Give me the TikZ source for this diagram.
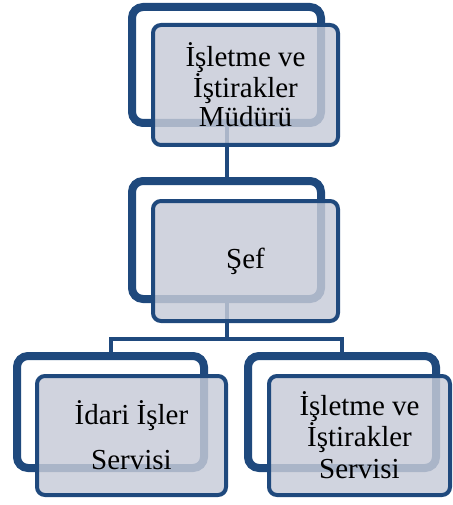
\documentclass[tikz,border=0pt]{standalone}
\usepackage{fontspec}
\setmainfont{Liberation Serif}
\usetikzlibrary{shadows}
\definecolor{frameblue}{RGB}{31,73,125}
\definecolor{boxgray}{RGB}{199,203,216}
\tikzset{
  backframe/.style={draw=frameblue, line width=8pt, fill=white, rounded corners=11pt,
    inner sep=0pt, outer sep=0pt,
    drop shadow={shadow xshift=-1.5pt, shadow yshift=-2pt, opacity=0.25, fill=black!60}},
  frontbox/.style={draw=frameblue, line width=4pt, fill=boxgray, fill opacity=0.83,
    text opacity=1, rounded corners=8pt, inner sep=0pt, outer sep=0pt},
  label/.style={font=\fontsize{29}{29}\selectfont, align=center, text=black},
  connector/.style={draw=frameblue, line width=4pt}
}
\begin{document}
\begin{tikzpicture}[x=1pt,y=-1pt]
\useasboundingbox (0,0) rectangle (452,505);
% back frames
\node[backframe, minimum width=189pt, minimum height=116pt] (b1) at (226.5,65) {};
\node[backframe, minimum width=189pt, minimum height=118pt] (b2) at (226.5,240) {};
\node[backframe, minimum width=187pt, minimum height=112pt] (b3) at (110.5,412) {};
\node[backframe, minimum width=188pt, minimum height=112pt] (b4) at (342,412) {};
% connectors
\coordinate (j) at (226.5,339);
\draw[connector] (b1.south) -- (b2.north);
\draw[connector] (b2.south) -- (j);
\draw[connector] (j) -| (b3.north);
\draw[connector] (j) -| (b4.north);
% front boxes
\node[frontbox, minimum width=185pt, minimum height=120pt] (f1) at (245.5,85) {};
\node[frontbox, minimum width=185pt, minimum height=120pt] (f2) at (245.5,261) {};
\node[frontbox, minimum width=189pt, minimum height=119pt] (f3) at (131.5,435.5) {};
\node[frontbox, minimum width=181pt, minimum height=119pt] (f4) at (359.5,435.5) {};
% labels
\node[label] (t1) at (f1.center) {İşletme ve\\İştirakler\\Müdürü};
\node[label] (t2) at (f2.center) {Şef};
\node[label] (t3) at (f3.center) {İdari İşler\\[16pt]Servisi};
\node[label] (t4) at (f4.center) {İşletme ve\\İştirakler\\[3pt]Servisi};
\end{tikzpicture}
\end{document}
